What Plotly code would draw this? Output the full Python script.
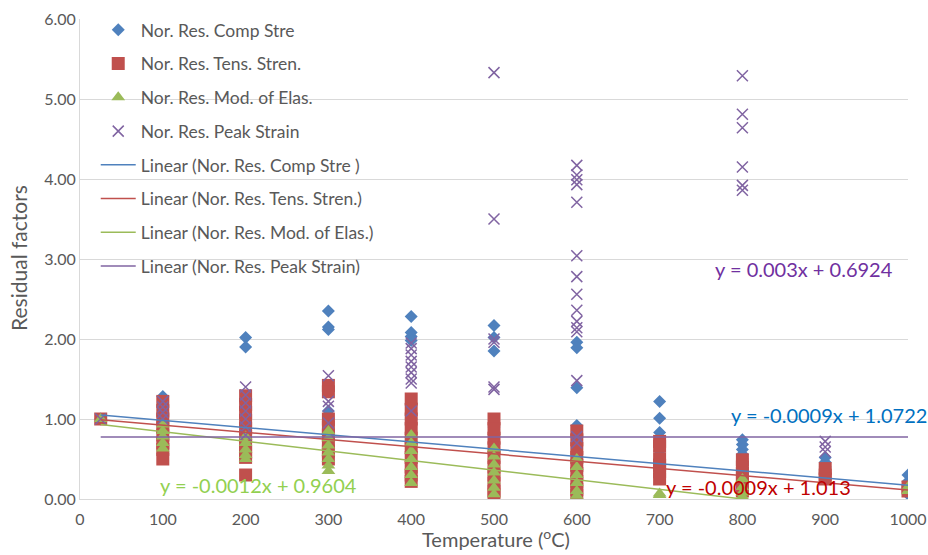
import plotly.graph_objects as go

# Exposure temperatures (°C)
temps = [25, 100, 200, 300, 400, 500, 600, 700, 800, 900, 1000]

# Normalised residual factors per temperature
comp_stre = [
    [1.0],
    [1.28, 1.18, 1.05, 0.95, 0.85],
    [2.02, 1.9, 1.2, 1.05, 0.95, 0.85],
    [2.35, 2.15, 2.12, 1.1, 1.0, 0.92],
    [2.28, 2.08, 2.03, 1.98, 1.2, 1.0],
    [2.17, 2.02, 1.85, 0.9, 0.8],
    [1.96, 1.89, 1.39, 0.92, 0.8],
    [1.22, 1.01, 0.83, 0.6, 0.5, 0.42],
    [0.74, 0.68, 0.62, 0.56, 0.5],
    [0.52, 0.46, 0.4],
    [0.3, 0.22, 0.14, 0.06],
]
tens_stren = [
    [1.0],
    [1.22, 1.1, 1.0, 0.9, 0.8, 0.7, 0.62, 0.5],
    [1.29, 1.18, 1.08, 0.98, 0.88, 0.78, 0.68, 0.58, 0.52, 0.3],
    [1.42, 1.34, 1.0, 0.9, 0.8, 0.7, 0.6, 0.5],
    [1.25, 1.12, 1.0, 0.88, 0.76, 0.64, 0.52, 0.4, 0.3, 0.22],
    [1.0, 0.88, 0.76, 0.64, 0.52, 0.4, 0.3, 0.2, 0.1, 0.05],
    [0.85, 0.74, 0.63, 0.52, 0.42, 0.32, 0.22, 0.12, 0.05],
    [0.72, 0.66, 0.5, 0.42, 0.34, 0.25],
    [0.49, 0.4, 0.32, 0.24, 0.16, 0.1],
    [0.38, 0.3, 0.25],
    [0.15, 0.1],
]
mod_elas = [
    [1.0],
    [0.93, 0.85, 0.78, 0.7, 0.63],
    [0.78, 0.7, 0.62, 0.55, 0.5],
    [0.85, 0.76, 0.67, 0.58, 0.5, 0.42, 0.35],
    [0.8, 0.7, 0.6, 0.5, 0.4, 0.3, 0.2],
    [0.63, 0.53, 0.43, 0.33, 0.23, 0.14, 0.06],
    [0.5, 0.4, 0.3, 0.2, 0.1, 0.04],
    [0.07, 0.05],
    [0.25, 0.15, 0.08, 0.03],
    [],
    [0.15, 0.1],
]
peak_strain = [
    [1.0],
    [1.22, 1.15, 1.08, 1.0],
    [1.4, 1.3, 1.2, 1.1, 1.0, 0.9, 0.8],
    [1.54, 1.22, 1.16, 0.95],
    [1.95, 1.88, 1.8, 1.72, 1.65, 1.58, 1.5, 1.45, 1.1],
    [5.33, 3.5, 2.0, 1.96, 1.4, 1.37],
    [4.17, 4.05, 3.99, 3.93, 3.71, 3.04, 2.78, 2.56, 2.36, 2.22, 2.14, 2.09, 1.48, 0.78, 0.7],
    [],
    [5.29, 4.81, 4.64, 4.15, 3.92, 3.86],
    [0.72, 0.65, 0.59],
    [],
]

# Linear trendlines: slope, intercept, x-extent
trend_names = ["Linear (Nor. Res. Comp Stre )", "Linear (Nor. Res. Tens. Stren.)",
               "Linear (Nor. Res. Mod. of Elas.)", "Linear (Nor. Res. Peak Strain)"]
trend_slope = [-0.0009, -0.0009, -0.0012, 0.0]
trend_intercept = [1.0722, 1.013, 0.9604, 0.775]
trend_x0 = [25, 25, 25, 25]
trend_x1 = [1000, 1000, 800, 1000]
trend_labels = ["y = -0.0009x + 1.0722", "y = -0.0009x + 1.013",
                "y = -0.0012x + 0.9604", "y = 0.003x + 0.6924"]
label_x = [905, 820, 215, 874]
label_y = [1.05, 0.15, 0.175, 2.875]
label_colors = ["#0070C0", "#C00000", "#92D050", "#7030A0"]

series_names = ["Nor. Res. Comp Stre", "Nor. Res. Tens. Stren.",
                "Nor. Res. Mod. of Elas.", "Nor. Res. Peak Strain"]
series_data = [comp_stre, tens_stren, mod_elas, peak_strain]
colors = ["#4F81BD", "#C0504D", "#9BBB59", "#8064A2"]
markers = [
    dict(symbol="diamond", size=10),
    dict(symbol="square", size=13),
    dict(symbol="triangle-up", size=12),
    dict(symbol="x-thin", size=11),
]


def flatten(groups):
    xs, ys = [], []
    for t, vals in zip(temps, groups):
        for v in vals:
            xs.append(t)
            ys.append(v)
    return xs, ys


fig = go.Figure()

for i, (name, data) in enumerate(zip(series_names, series_data)):
    xs, ys = flatten(data)
    m = dict(markers[i])
    m["color"] = colors[i]
    if m["symbol"] == "x-thin":
        m["line"] = dict(color=colors[i], width=1.5)
    else:
        m["line"] = dict(width=0)
    fig.add_trace(go.Scatter(x=xs, y=ys, mode="markers", name=name,
                             marker=m, legendgroup=f"g{i}"))

for i in range(4):
    xa, xb = trend_x0[i], trend_x1[i]
    fig.add_trace(go.Scatter(
        x=[xa, xb],
        y=[trend_slope[i] * xa + trend_intercept[i], trend_slope[i] * xb + trend_intercept[i]],
        mode="lines", name=trend_names[i], line=dict(color=colors[i], width=1.5),
        legendgroup=f"t{i}"))

for i in range(4):
    fig.add_annotation(x=label_x[i], y=label_y[i], text=trend_labels[i],
                       showarrow=False, font=dict(color=label_colors[i], size=20),
                       xanchor="center", yanchor="middle")

# Axis titles
fig.add_annotation(xref="paper", yref="paper", x=0.502, y=-0.113,
                   text="Temperature (<sup>o</sup>C)", showarrow=False,
                   font=dict(size=20, color="#595959"), xanchor="center", yanchor="bottom")
fig.add_annotation(xref="paper", yref="paper", x=-0.075, y=0.502,
                   text="Residual factors", showarrow=False, textangle=-90,
                   font=dict(size=21, color="#595959"), xanchor="center", yanchor="middle")

fig.update_layout(
    width=928, height=555,
    margin=dict(l=80, r=20, t=19, b=56, autoexpand=False),
    paper_bgcolor="white", plot_bgcolor="white",
    font=dict(family="Lato, Open Sans, sans-serif", color="#595959", size=16),
    showlegend=True,
    legend=dict(x=0.019, y=1.0146, xanchor="left", yanchor="top",
                bgcolor="rgba(0,0,0,0)", font=dict(size=17.5, color="#595959"),
                traceorder="grouped", tracegroupgap=8, itemwidth=35, maxheight=600),
)
fig.update_xaxes(range=[0, 1000], dtick=100, tick0=0, showgrid=False, automargin=False,
                 showline=True, linecolor="#D9D9D9", linewidth=1, zeroline=False,
                 ticks="", ticklabelstandoff=6, tickfont=dict(size=16, color="#595959"))
fig.update_yaxes(range=[0, 6], dtick=1, tick0=0, tickformat=".2f", showgrid=True,
                 automargin=False, gridcolor="#D9D9D9", gridwidth=1, showline=True,
                 linecolor="#D9D9D9", linewidth=1, zeroline=False, ticks="",
                 tickfont=dict(size=16, color="#595959"))

fig.write_html("out.html")
